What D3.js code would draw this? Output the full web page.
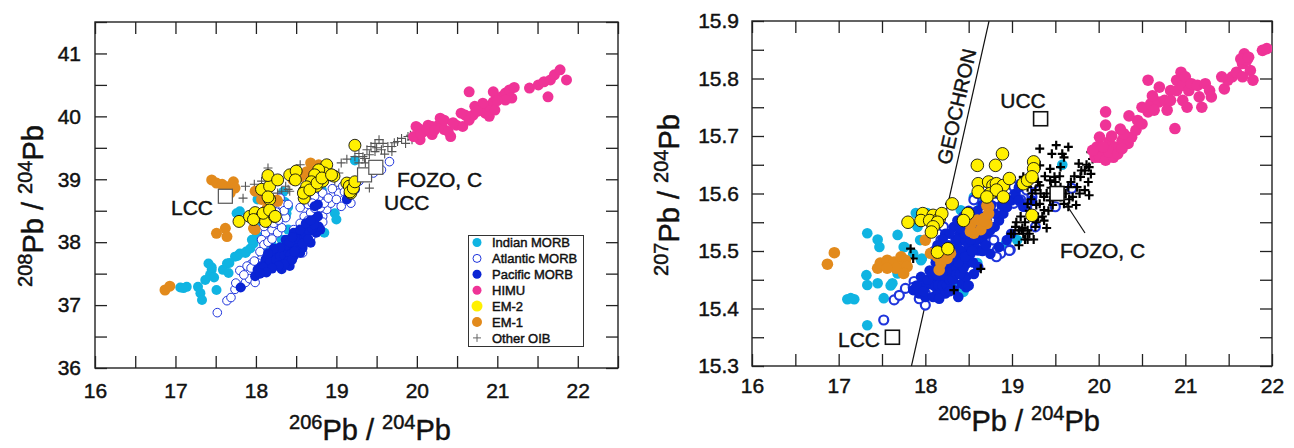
<!DOCTYPE html>
<html><head><meta charset="utf-8">
<script src="https://cdn.jsdelivr.net/npm/d3@7"></script>
<style>
html,body{margin:0;padding:0;background:#fff;}
svg text{font-family:"Liberation Sans",Arial,Helvetica,sans-serif;fill:#111;stroke:#111;stroke-width:0.45px;}
</style></head>
<body><svg id="chart" width="1294" height="448"></svg>
<script>
// ---------- tick values / labels ----------
const leftXTicks = [16,16.5,17,17.5,18,18.5,19,19.5,20,20.5,21,21.5,22,22.5];
const leftXLabels = [16,17,18,19,20,21,22];
const leftYTicks = [36,36.5,37,37.5,38,38.5,39,39.5,40,40.5,41,41.5];
const leftYLabels = [36,37,38,39,40,41];
const rightXTicks = [16,16.5,17,17.5,18,18.5,19,19.5,20,20.5,21,21.5,22];
const rightXLabels = [16,17,18,19,20,21,22];
const rightYTicks = [15.3,15.35,15.4,15.45,15.5,15.55,15.6,15.65,15.7,15.75,15.8,15.85,15.9];
const rightYLabels = [15.3,15.4,15.5,15.6,15.7,15.8,15.9];
const legendLabels = ["Indian MORB","Atlantic MORB","Pacific MORB","HIMU","EM-2","EM-1","Other OIB"];

// ---------- left panel: 206Pb/204Pb vs 208Pb/204Pb ----------
const leftIndian = [[17.06,37.28],[17.14,37.29],[17.10,37.27],[17.28,37.29],[17.31,37.19],[17.33,37.08],[17.41,37.66],[17.45,37.56],[17.43,37.48],[17.37,37.40],[17.51,37.24],[17.59,37.56],[17.64,37.66],[17.66,37.51],[17.67,37.67],[17.74,37.77],[17.77,37.78],[17.80,37.82],[17.87,37.83],[17.88,37.85],[17.93,37.90],[17.97,37.98],[18.03,38.09],[18.07,37.83],[17.76,38.46],[17.80,38.49],[17.99,38.25],[18.01,38.33],[18.01,38.09],[17.95,38.04],[18.02,38.68],[18.36,38.64],[18.40,38.56],[18.38,38.46],[18.34,38.80],[18.37,38.41],[18.40,38.20],[18.32,38.04],[18.30,38.41],[18.60,38.68],[18.82,38.83],[19.23,39.30],[18.98,38.46],[18.85,38.15],[19.00,38.36],[17.45,37.60],[17.48,37.44],[18.20,37.95],[18.12,37.90]];
const leftAtlantic = [[17.52,36.88],[17.64,37.07],[17.69,37.12],[17.74,37.25],[17.82,37.30],[17.87,37.36],[17.92,37.42],[17.99,37.36],[18.01,37.54],[17.94,37.65],[17.89,37.62],[18.07,37.73],[18.17,37.83],[18.12,38.15],[18.20,38.20],[18.27,38.15],[18.32,38.23],[18.07,38.04],[18.10,37.96],[18.17,38.36],[18.25,38.41],[18.32,38.44],[18.37,38.39],[18.27,38.54],[18.12,38.47],[18.17,38.54],[18.32,38.60],[18.22,38.62],[18.60,38.41],[18.68,38.47],[18.73,38.54],[18.83,38.41],[18.88,38.52],[18.93,38.62],[18.78,38.68],[18.73,38.73],[18.83,38.78],[18.95,38.73],[19.03,38.78],[19.08,38.89],[19.06,38.57],[19.18,38.62],[19.18,38.89],[19.28,38.97],[19.38,39.05],[19.46,39.10],[19.56,39.15],[19.66,39.28],[18.73,38.15],[18.75,38.25],[18.58,37.83],[18.68,38.07],[18.47,38.20],[18.02,37.67],[17.94,37.59],[18.05,37.85],[18.15,38.00],[18.20,38.05],[18.10,38.25],[18.15,38.30],[18.22,38.30],[18.28,38.35],[18.35,38.50],[18.25,38.48],[18.40,38.60],[18.30,38.70],[18.55,38.55],[18.65,38.60],[18.70,38.62],[18.80,38.55],[18.85,38.62],[18.90,38.70],[19.00,38.68],[19.10,38.80],[18.95,38.85],[18.65,38.35],[18.55,38.30],[18.83,38.32],[17.80,37.55],[17.85,37.48],[17.98,37.70],[17.75,37.35]];
const leftPacific = [[17.81,37.28],[17.99,37.46],[18.07,37.52],[18.15,37.57],[18.22,37.62],[18.12,37.73],[18.20,37.75],[18.27,37.81],[18.32,37.86],[18.40,37.91],[18.45,37.96],[18.47,38.04],[18.53,38.10],[18.58,38.15],[18.60,38.20],[18.65,38.25],[18.70,38.31],[18.73,38.36],[18.77,38.41],[18.27,37.67],[18.37,37.73],[18.42,37.62],[18.32,37.57],[18.47,37.78],[18.55,37.83],[18.58,37.91],[18.68,37.99],[18.75,38.15],[18.80,38.20],[18.07,37.62],[18.17,37.67],[18.37,38.04],[18.47,38.15],[18.68,38.20],[18.73,38.57],[19.13,38.68],[19.23,38.84],[18.78,38.25],[18.02,37.56],[18.50,37.88],[18.62,38.05],[18.10,37.60],[18.18,37.70],[18.25,37.72],[18.30,37.78],[18.35,37.80],[18.40,37.85],[18.43,37.80],[18.50,37.95],[18.55,38.00],[18.52,38.05],[18.60,38.08],[18.62,38.12],[18.66,38.18],[18.70,38.22],[18.72,38.28],[18.40,37.70],[18.45,37.72],[18.35,37.65],[18.28,37.62],[18.20,37.58],[18.13,37.52],[18.05,37.50],[18.58,37.98],[18.65,38.05],[18.55,38.20],[18.62,38.30],[18.68,38.35],[18.48,37.85],[18.38,37.95],[18.30,37.92],[18.42,38.00],[18.45,38.08],[18.77,38.60],[19.15,38.75],[18.22,37.90],[18.15,37.82]];
const leftHIMU = [[19.99,39.84],[20.04,39.63],[20.09,39.76],[20.19,39.71],[20.27,39.86],[20.34,39.79],[20.42,39.68],[20.49,39.86],[20.57,39.84],[20.65,39.94],[20.70,40.02],[20.80,40.10],[20.85,40.05],[20.90,40.16],[20.95,40.23],[21.05,40.31],[21.10,40.37],[21.15,40.42],[21.21,40.46],[21.18,40.29],[20.90,40.00],[20.60,40.02],[20.55,40.05],[20.29,39.97],[20.14,39.86],[20.65,40.39],[20.95,40.39],[21.40,40.45],[21.51,40.50],[21.58,40.55],[21.66,40.58],[21.71,40.66],[21.78,40.74],[21.63,40.31],[21.86,40.58],[19.96,39.68],[20.02,39.81],[20.19,39.84],[20.34,39.94],[20.39,39.76],[20.72,40.16],[20.82,40.21],[20.97,40.10],[21.10,40.26],[20.05,39.72],[20.12,39.80],[20.22,39.78],[20.45,39.90],[20.75,40.08],[21.00,40.25]];
const leftEM2 = [[17.79,38.33],[17.92,38.41],[17.99,38.47],[18.07,38.41],[18.15,38.47],[17.97,38.36],[18.12,38.33],[18.23,38.41],[18.07,38.84],[18.17,38.89],[18.15,39.06],[18.17,38.68],[18.27,38.99],[18.42,39.07],[18.50,39.13],[18.60,38.81],[18.60,38.70],[18.68,38.86],[18.75,38.89],[18.83,38.97],[18.88,39.23],[18.93,39.07],[18.97,39.05],[18.85,39.10],[19.13,38.94],[19.18,38.78],[19.16,38.89],[19.23,39.54],[18.78,39.15],[18.73,39.07],[18.69,38.96],[18.63,38.88],[18.59,38.78],[18.67,38.83],[18.76,38.94],[18.82,39.02],[18.94,39.07],[18.49,38.99],[18.15,38.72],[18.09,38.46],[18.17,38.51],[18.24,38.41],[19.17,38.80],[19.21,38.86],[19.23,38.96]];
const leftEM1 = [[16.87,37.24],[16.93,37.30],[17.45,38.99],[17.51,38.94],[17.64,38.88],[17.72,38.96],[17.74,38.86],[17.68,38.78],[17.51,38.14],[17.62,38.22],[17.64,38.09],[17.97,38.22],[18.26,38.67],[18.46,38.99],[18.55,39.04],[18.63,39.12],[18.71,39.17],[18.78,39.23],[18.71,39.10],[17.99,38.81],[18.07,38.68],[18.14,38.54],[17.99,38.20],[18.27,38.65],[18.68,39.26],[18.73,39.15],[18.50,39.02],[18.60,39.08],[17.58,38.92]];
const leftOIB = [[17.84,38.70],[17.87,38.89],[18.15,39.18],[18.55,39.23],[18.32,38.81],[18.42,38.81],[18.37,38.89],[19.06,39.26],[19.13,39.32],[19.23,39.36],[19.28,39.41],[19.33,39.36],[19.38,39.47],[19.43,39.52],[19.48,39.57],[19.53,39.63],[19.58,39.57],[19.64,39.52],[19.69,39.52],[19.76,39.60],[19.81,39.65],[19.89,39.68],[19.86,39.57],[19.94,39.63],[19.41,39.39],[19.48,39.44],[19.56,39.47],[19.69,39.44],[19.28,39.26],[19.36,39.26],[19.41,38.86],[19.03,39.10],[18.98,38.89],[18.68,39.10],[18.07,38.97],[18.27,38.78],[18.40,38.84],[17.98,38.92],[19.50,39.50],[19.60,39.40],[19.72,39.58],[19.92,39.70],[19.35,39.33]];
const leftBoxes = [[17.62,38.73,"LCC"],[19.35,39.07,"UCC"],[19.49,39.19,"FOZO, C"]];

// ---------- right panel: 206Pb/204Pb vs 207Pb/204Pb ----------
const rightIndian = [[17.33,15.531],[17.68,15.528],[17.47,15.507],[17.75,15.507],[17.32,15.458],[17.33,15.441],[17.45,15.444],[17.10,15.416],[17.18,15.416],[17.14,15.418],[17.52,15.418],[17.33,15.371],[17.62,15.444],[17.68,15.461],[17.89,15.566],[18.02,15.566],[18.41,15.571],[18.56,15.594],[18.64,15.583],[17.94,15.519],[17.96,15.487],[17.91,15.542],[18.18,15.450],[18.33,15.438],[18.44,15.429],[18.60,15.479],[18.93,15.513],[19.06,15.519],[19.58,15.650],[18.22,15.507],[18.11,15.490],[18.64,15.531],[17.60,15.440],[17.86,15.495],[17.95,15.484],[17.76,15.507],[17.45,15.520]];
const rightAtlantic = [[17.52,15.380],[17.64,15.415],[17.70,15.423],[17.77,15.435],[17.87,15.447],[17.95,15.438],[17.96,15.421],[18.00,15.406],[18.00,15.426],[18.10,15.461],[18.16,15.473],[18.21,15.484],[18.29,15.496],[18.37,15.502],[18.33,15.531],[18.21,15.542],[18.18,15.519],[18.56,15.589],[18.60,15.600],[18.71,15.606],[18.79,15.577],[18.87,15.600],[18.94,15.606],[19.02,15.612],[19.10,15.617],[19.17,15.606],[19.25,15.617],[18.94,15.577],[19.02,15.583],[19.10,15.589],[19.17,15.577],[19.23,15.594],[18.83,15.502],[18.87,15.496],[18.98,15.502],[18.68,15.543],[19.27,15.542],[19.50,15.577],[19.69,15.609],[18.52,15.542],[18.44,15.519],[18.37,15.525],[18.52,15.513],[18.79,15.519],[18.64,15.502],[17.93,15.417],[18.97,15.501],[18.82,15.490],[17.86,15.437]];
const rightPacific = [[17.86,15.432],[17.93,15.426],[18.00,15.420],[18.09,15.420],[18.14,15.432],[18.05,15.443],[18.14,15.449],[18.23,15.455],[18.33,15.461],[18.42,15.466],[18.47,15.478],[18.42,15.490],[18.52,15.495],[18.61,15.501],[18.56,15.513],[18.66,15.519],[18.71,15.530],[18.75,15.536],[18.80,15.542],[18.85,15.553],[18.90,15.565],[18.94,15.577],[18.99,15.588],[19.04,15.600],[19.08,15.611],[18.80,15.565],[18.71,15.553],[18.61,15.536],[18.52,15.530],[18.42,15.519],[18.33,15.507],[18.23,15.495],[18.14,15.478],[18.05,15.466],[17.95,15.455],[18.23,15.530],[18.33,15.542],[18.37,15.553],[18.47,15.559],[18.56,15.565],[18.42,15.443],[18.33,15.432],[18.47,15.455],[18.23,15.426],[18.61,15.472],[18.75,15.495],[18.85,15.507],[18.94,15.519],[18.99,15.530],[19.08,15.588],[19.13,15.577],[19.23,15.588],[18.47,15.437],[18.16,15.417],[18.30,15.480],[18.38,15.500],[18.45,15.520],[18.50,15.540],[18.28,15.470],[18.20,15.460],[18.36,15.470],[18.55,15.480],[18.60,15.520],[18.48,15.500],[18.40,15.530],[18.50,15.570],[18.66,15.580],[18.10,15.440],[18.00,15.440],[18.18,15.500],[18.27,15.510],[17.90,15.44],[17.98,15.43],[18.03,15.45],[18.08,15.46],[18.12,15.46],[18.15,15.44],[18.20,15.44],[18.25,15.44],[18.28,15.45],[18.32,15.45],[18.36,15.46],[18.40,15.46],[18.44,15.47],[18.38,15.48],[18.32,15.49],[18.26,15.48],[18.20,15.47],[18.12,15.48],[18.16,15.49],[18.24,15.50],[18.30,15.50],[18.36,15.51],[18.42,15.50],[18.46,15.49],[18.50,15.51],[18.54,15.50],[18.58,15.52],[18.52,15.52],[18.46,15.53],[18.40,15.54],[18.35,15.52],[18.28,15.53],[18.20,15.52],[18.14,15.51],[18.10,15.50],[18.44,15.56],[18.55,15.55],[18.62,15.55],[18.68,15.56],[18.60,15.57],[18.70,15.59],[18.76,15.58],[18.82,15.60],[18.88,15.58],[18.28,15.43],[18.38,15.42],[18.50,15.44],[18.56,15.46],[18.66,15.50],[18.70,15.51]];
const rightHIMU = [[19.96,15.663],[20.03,15.672],[19.98,15.681],[20.01,15.698],[20.08,15.719],[20.08,15.742],[20.12,15.690],[20.19,15.681],[20.27,15.692],[20.34,15.687],[20.38,15.698],[20.29,15.704],[20.43,15.710],[20.45,15.727],[20.50,15.721],[20.57,15.742],[20.57,15.797],[20.50,15.750],[20.60,15.756],[20.69,15.759],[20.76,15.762],[20.64,15.745],[20.79,15.745],[20.88,15.713],[20.83,15.779],[20.83,15.762],[20.90,15.797],[20.90,15.779],[20.97,15.788],[20.95,15.811],[21.00,15.803],[20.97,15.762],[21.04,15.779],[21.07,15.791],[21.14,15.788],[21.16,15.768],[21.23,15.791],[21.19,15.750],[21.28,15.779],[21.30,15.768],[21.02,15.750],[21.45,15.782],[21.54,15.803],[21.59,15.811],[21.66,15.826],[21.68,15.843],[21.71,15.832],[21.75,15.814],[21.78,15.797],[21.66,15.803],[21.49,15.797],[21.42,15.803],[21.89,15.849],[21.94,15.852],[21.64,15.834],[21.73,15.837],[20.01,15.663],[20.08,15.658],[20.17,15.663],[20.12,15.672],[20.22,15.669],[20.27,15.678],[20.05,15.681],[19.93,15.675],[20.15,15.700],[20.25,15.712],[20.35,15.735],[20.62,15.770],[20.70,15.785]];
const rightEM2 = [[17.80,15.550],[17.97,15.565],[18.09,15.562],[17.95,15.553],[18.05,15.553],[18.16,15.556],[18.19,15.565],[18.14,15.550],[18.09,15.542],[18.07,15.533],[18.31,15.582],[18.49,15.565],[18.44,15.553],[18.14,15.498],[18.26,15.504],[18.60,15.649],[18.81,15.649],[18.89,15.669],[18.61,15.617],[18.61,15.603],[18.73,15.620],[18.78,15.614],[18.82,15.617],[18.90,15.614],[18.97,15.626],[18.75,15.600],[18.82,15.606],[18.90,15.594],[18.71,15.594],[19.13,15.617],[19.18,15.623],[19.25,15.655],[19.25,15.643],[19.23,15.629],[19.23,15.562]];
const rightEM1 = [[16.87,15.477],[16.95,15.497],[17.45,15.470],[17.48,15.479],[17.56,15.484],[17.64,15.481],[17.72,15.490],[17.77,15.484],[17.74,15.473],[17.66,15.470],[17.56,15.470],[17.79,15.473],[17.75,15.461],[18.00,15.519],[18.06,15.496],[18.14,15.490],[18.18,15.479],[18.25,15.487],[18.29,15.496],[18.16,15.467],[18.52,15.545],[18.56,15.531],[18.60,15.554],[18.68,15.557],[18.71,15.548],[18.64,15.537],[18.73,15.577],[18.52,15.534],[18.71,15.579],[18.68,15.553],[18.73,15.565]];
const rightOIB = [[19.32,15.678],[19.51,15.684],[19.65,15.681],[19.46,15.669],[19.58,15.669],[19.91,15.672],[19.98,15.678],[19.32,15.649],[19.44,15.643],[19.56,15.646],[19.60,15.663],[19.77,15.652],[19.84,15.640],[19.89,15.646],[19.79,15.629],[19.91,15.634],[19.84,15.606],[19.89,15.597],[19.75,15.611],[19.13,15.629],[19.18,15.611],[19.27,15.606],[19.37,15.594],[19.44,15.588],[19.51,15.600],[19.56,15.611],[19.60,15.582],[19.65,15.577],[19.32,15.582],[19.37,15.571],[19.30,15.559],[19.25,15.565],[19.27,15.542],[19.18,15.536],[19.13,15.530],[19.08,15.536],[19.04,15.542],[19.37,15.553],[19.56,15.594],[19.70,15.594],[19.65,15.611],[19.23,15.600],[19.32,15.614],[19.44,15.623],[19.49,15.629],[19.18,15.582],[18.28,15.582],[17.83,15.504],[17.86,15.487],[18.33,15.432],[18.64,15.469],[18.99,15.530],[19.11,15.536],[19.05,15.55],[19.10,15.56],[19.15,15.55],[19.20,15.57],[19.22,15.59],[19.28,15.58],[19.33,15.60],[19.40,15.60],[19.45,15.61],[19.50,15.62],[19.42,15.57],[19.35,15.56],[19.28,15.55],[19.20,15.53],[19.15,15.52],[19.08,15.51],[19.12,15.54],[19.02,15.53],[19.30,15.62],[19.38,15.63],[19.55,15.63],[19.62,15.60],[19.68,15.62],[19.72,15.63],[19.80,15.64],[19.86,15.65],[19.93,15.66],[19.88,15.62],[19.78,15.60],[19.74,15.58],[19.66,15.59],[19.47,15.58],[19.40,15.54],[19.25,15.52],[19.18,15.52]];
const rightBoxes = [[17.62,15.350,"LCC"],[19.33,15.730,"UCC"],[19.52,15.600,"FOZO, C"]];
const geochron = [[17.84,15.3],[18.735,15.9]];

// ---------- colours ----------
const cIndian = "#10b4e2", cAtlantic = "#1f35dc", cPacific = "#0a24d4",
      cHIMU = "#ef3397", cEM2 = "#fff000", cEM1 = "#e28a1c";

const svg = d3.select("#chart");

function drawPanel(o) {
  const g = svg.append("g");
  const x = d3.scaleLinear().domain(o.xDomain).range(o.xRange);
  const y = d3.scaleLinear().domain(o.yDomain).range(o.yRange);
  const T = 12;
  const fmtX = v => o.xLabels.some(l => Math.abs(l - v) < 1e-6) ? o.xFmt(v) : "";
  const fmtY = v => o.yLabels.some(l => Math.abs(l - v) < 1e-6) ? o.yFmt(v) : "";

  const axB = g.append("g").attr("transform", `translate(0,${o.yRange[0]})`)
    .call(d3.axisBottom(x).tickValues(o.xTicks).tickFormat(fmtX).tickSize(-T).tickPadding(o.xPad));
  const axT = g.append("g").attr("transform", `translate(0,${o.yRange[1]})`)
    .call(d3.axisTop(x).tickValues(o.xTicks).tickFormat("").tickSize(-T));
  const axL = g.append("g").attr("transform", `translate(${o.xRange[0]},0)`)
    .call(d3.axisLeft(y).tickValues(o.yTicks).tickFormat(fmtY).tickSize(-T).tickPadding(o.yPad));
  const axR = g.append("g").attr("transform", `translate(${o.xRange[1]},0)`)
    .call(d3.axisRight(y).tickValues(o.yTicks).tickFormat("").tickSize(-T));
  [axB, axT, axL, axR].forEach(a => {
    a.select(".domain").remove();
    a.selectAll("line").attr("stroke", "#222").attr("stroke-width", 1.3);
    a.selectAll("text").attr("font-size", 21).attr("fill", "#111")
      .attr("font-family", '"Liberation Sans",Arial,sans-serif');
  });
  g.append("rect").attr("x", o.xRange[0]).attr("y", o.yRange[1])
    .attr("width", o.xRange[1] - o.xRange[0]).attr("height", o.yRange[0] - o.yRange[1])
    .attr("fill", "none").attr("stroke", "#222").attr("stroke-width", 1.4);

  const clip = "clip" + o.id;
  svg.append("clipPath").attr("id", clip).append("rect")
    .attr("x", o.xRange[0]).attr("y", o.yRange[1])
    .attr("width", o.xRange[1] - o.xRange[0]).attr("height", o.yRange[0] - o.yRange[1]);
  const pg = g.append("g").attr("clip-path", `url(#${clip})`);

  if (o.geochron) {
    pg.append("line").attr("x1", x(o.geochron[0][0])).attr("y1", y(o.geochron[0][1]))
      .attr("x2", x(o.geochron[1][0])).attr("y2", y(o.geochron[1][1]))
      .attr("stroke", "#111").attr("stroke-width", 1.2);
  }

  const dots = (data, r, fill, stroke, sw) => pg.append("g").selectAll("circle").data(data).join("circle")
    .attr("cx", d => x(d[0])).attr("cy", d => y(d[1])).attr("r", r)
    .attr("fill", fill).attr("stroke", stroke || "none").attr("stroke-width", sw || 0);
  const pluses = (data, s, col, sw) => pg.append("g").selectAll("path").data(data).join("path")
    .attr("transform", d => `translate(${x(d[0])},${y(d[1])})`)
    .attr("d", `M${-s},0H${s}M0,${-s}V${s}`).attr("stroke", col).attr("stroke-width", sw).attr("fill", "none");

  dots(o.indian, o.r, cIndian);
  if (o.id === "L") pluses(o.oib, 4.5, "#555", 1.1);
  dots(o.atlantic, o.rA, "#fff", cAtlantic, o.swA);
  dots(o.pacific, o.r, cPacific);
  if (o.id === "R") pluses(o.oib, 4.5, "#000", 2.2);
  dots(o.himu, o.r + 0.5, cHIMU);
  dots(o.em1, o.r + 0.5, cEM1);
  dots(o.em2, o.r + 1, cEM2, "#111", 0.9);

  // reference boxes
  pg.append("g").selectAll("rect").data(o.boxes).join("rect")
    .attr("x", d => x(d[0]) - 7).attr("y", d => y(d[1]) - 7).attr("width", 14).attr("height", 14)
    .attr("fill", "#fff").attr("stroke", o.boxStroke).attr("stroke-width", o.boxSW);
  o.boxLabels.forEach(b => {
    g.append("text").attr("x", b.x).attr("y", b.y).attr("text-anchor", b.anchor)
      .attr("font-size", 21).text(b.t);
  });
  if (o.leader) {
    g.append("line").attr("x1", o.leader[0]).attr("y1", o.leader[1]).attr("x2", o.leader[2]).attr("y2", o.leader[3])
      .attr("stroke", "#111").attr("stroke-width", 1.2);
  }
  if (o.geochron) {
    const p0 = [x(o.geochron[0][0]), y(o.geochron[0][1])], p1 = [x(o.geochron[1][0]), y(o.geochron[1][1])];
    const ang = Math.atan2(p1[1] - p0[1], p1[0] - p0[0]) * 180 / Math.PI;
    const ty = 108, t = (p0[1] - ty) / (p0[1] - p1[1]);
    const tx = p0[0] + t * (p1[0] - p0[0]) - 6;
    g.append("text").attr("transform", `translate(${tx},${ty}) rotate(${ang})`)
      .attr("text-anchor", "middle").attr("font-size", 20).text("GEOCHRON");
  }

  // axis titles
  const title = (sel, a, b) => {
    sel.append("tspan").attr("font-size", 20).attr("dy", -11).text(a);
    sel.append("tspan").attr("font-size", 29).attr("dy", 11).text("Pb / ");
    sel.append("tspan").attr("font-size", 20).attr("dy", -11).text(b);
    sel.append("tspan").attr("font-size", 29).attr("dy", 11).text("Pb");
  };
  title(g.append("text").attr("x", o.xt[0]).attr("y", o.xt[1]).attr("text-anchor", "middle"), "206", "204");
  title(g.append("text").attr("transform", `translate(${o.yt[0]},${o.yt[1]}) rotate(-90)`).attr("text-anchor", "middle"), o.yNum, "204");
  return {x, y, g};
}

drawPanel({
  id: "L", xDomain: [16, 22.5], xRange: [95, 618], yDomain: [36, 41.5], yRange: [368, 22],
  xTicks: leftXTicks, xLabels: leftXLabels, yTicks: leftYTicks, yLabels: leftYLabels,
  xFmt: d3.format("d"), yFmt: d3.format("d"), xPad: 15, yPad: 14,
  indian: leftIndian, atlantic: leftAtlantic, pacific: leftPacific, himu: leftHIMU,
  em2: leftEM2, em1: leftEM1, oib: leftOIB, r: 5, rA: 4.3, swA: 1,
  boxes: leftBoxes, boxStroke: "#555", boxSW: 1.2,
  boxLabels: [{t: "LCC", x: 213, y: 215, anchor: "end"}, {t: "FOZO, C", x: 397, y: 187, anchor: "start"}, {t: "UCC", x: 384, y: 210, anchor: "start"}],
  xt: [370, 440], yt: [43, 206], yNum: "208"
});

drawPanel({
  id: "R", xDomain: [16, 22], xRange: [752, 1272], yDomain: [15.3, 15.9], yRange: [366, 21],
  xTicks: rightXTicks, xLabels: rightXLabels, yTicks: rightYTicks, yLabels: rightYLabels,
  xFmt: d3.format("d"), yFmt: d3.format(".1f"), xPad: 12, yPad: 13,
  indian: rightIndian, atlantic: rightAtlantic, pacific: rightPacific, himu: rightHIMU,
  em2: rightEM2, em1: rightEM1, oib: rightOIB, r: 5.3, rA: 4.5, swA: 2.2,
  boxes: rightBoxes, boxStroke: "#111", boxSW: 1.6,
  boxLabels: [{t: "LCC", x: 880, y: 347, anchor: "end"}, {t: "UCC", x: 1023, y: 108, anchor: "middle"}, {t: "FOZO, C", x: 1060, y: 258, anchor: "start"}],
  leader: [1085, 233, 1066, 204], geochron: geochron,
  xt: [1019, 431], yt: [679, 195], yNum: "207"
});

// ---------- legend (left panel) ----------
const lg = svg.append("g");
lg.append("rect").attr("x", 468.5).attr("y", 235.5).attr("width", 115).attr("height", 111)
  .attr("fill", "#fff").attr("stroke", "#333").attr("stroke-width", 1);
const legendStyle = [
  {fill: cIndian, r: 4.5}, {fill: "#fff", stroke: cAtlantic, r: 4, sw: 1}, {fill: cPacific, r: 4.5},
  {fill: cHIMU, r: 4.5}, {fill: cEM2, r: 5.5}, {fill: cEM1, r: 5}, {plus: true}
];
legendLabels.forEach((lab, i) => {
  const cy = 242.5 + i * 15.9, s = legendStyle[i];
  if (s.plus) {
    lg.append("path").attr("d", `M${477 - 4},${cy}H${477 + 4}M477,${cy - 4}V${cy + 4}`)
      .attr("stroke", "#666").attr("stroke-width", 1);
  } else {
    lg.append("circle").attr("cx", 477).attr("cy", cy).attr("r", s.r)
      .attr("fill", s.fill).attr("stroke", s.stroke || "none").attr("stroke-width", s.sw || 0);
  }
  lg.append("text").attr("x", 492).attr("y", cy + 4.6).attr("font-size", 13).text(lab);
});
</script></body></html>
